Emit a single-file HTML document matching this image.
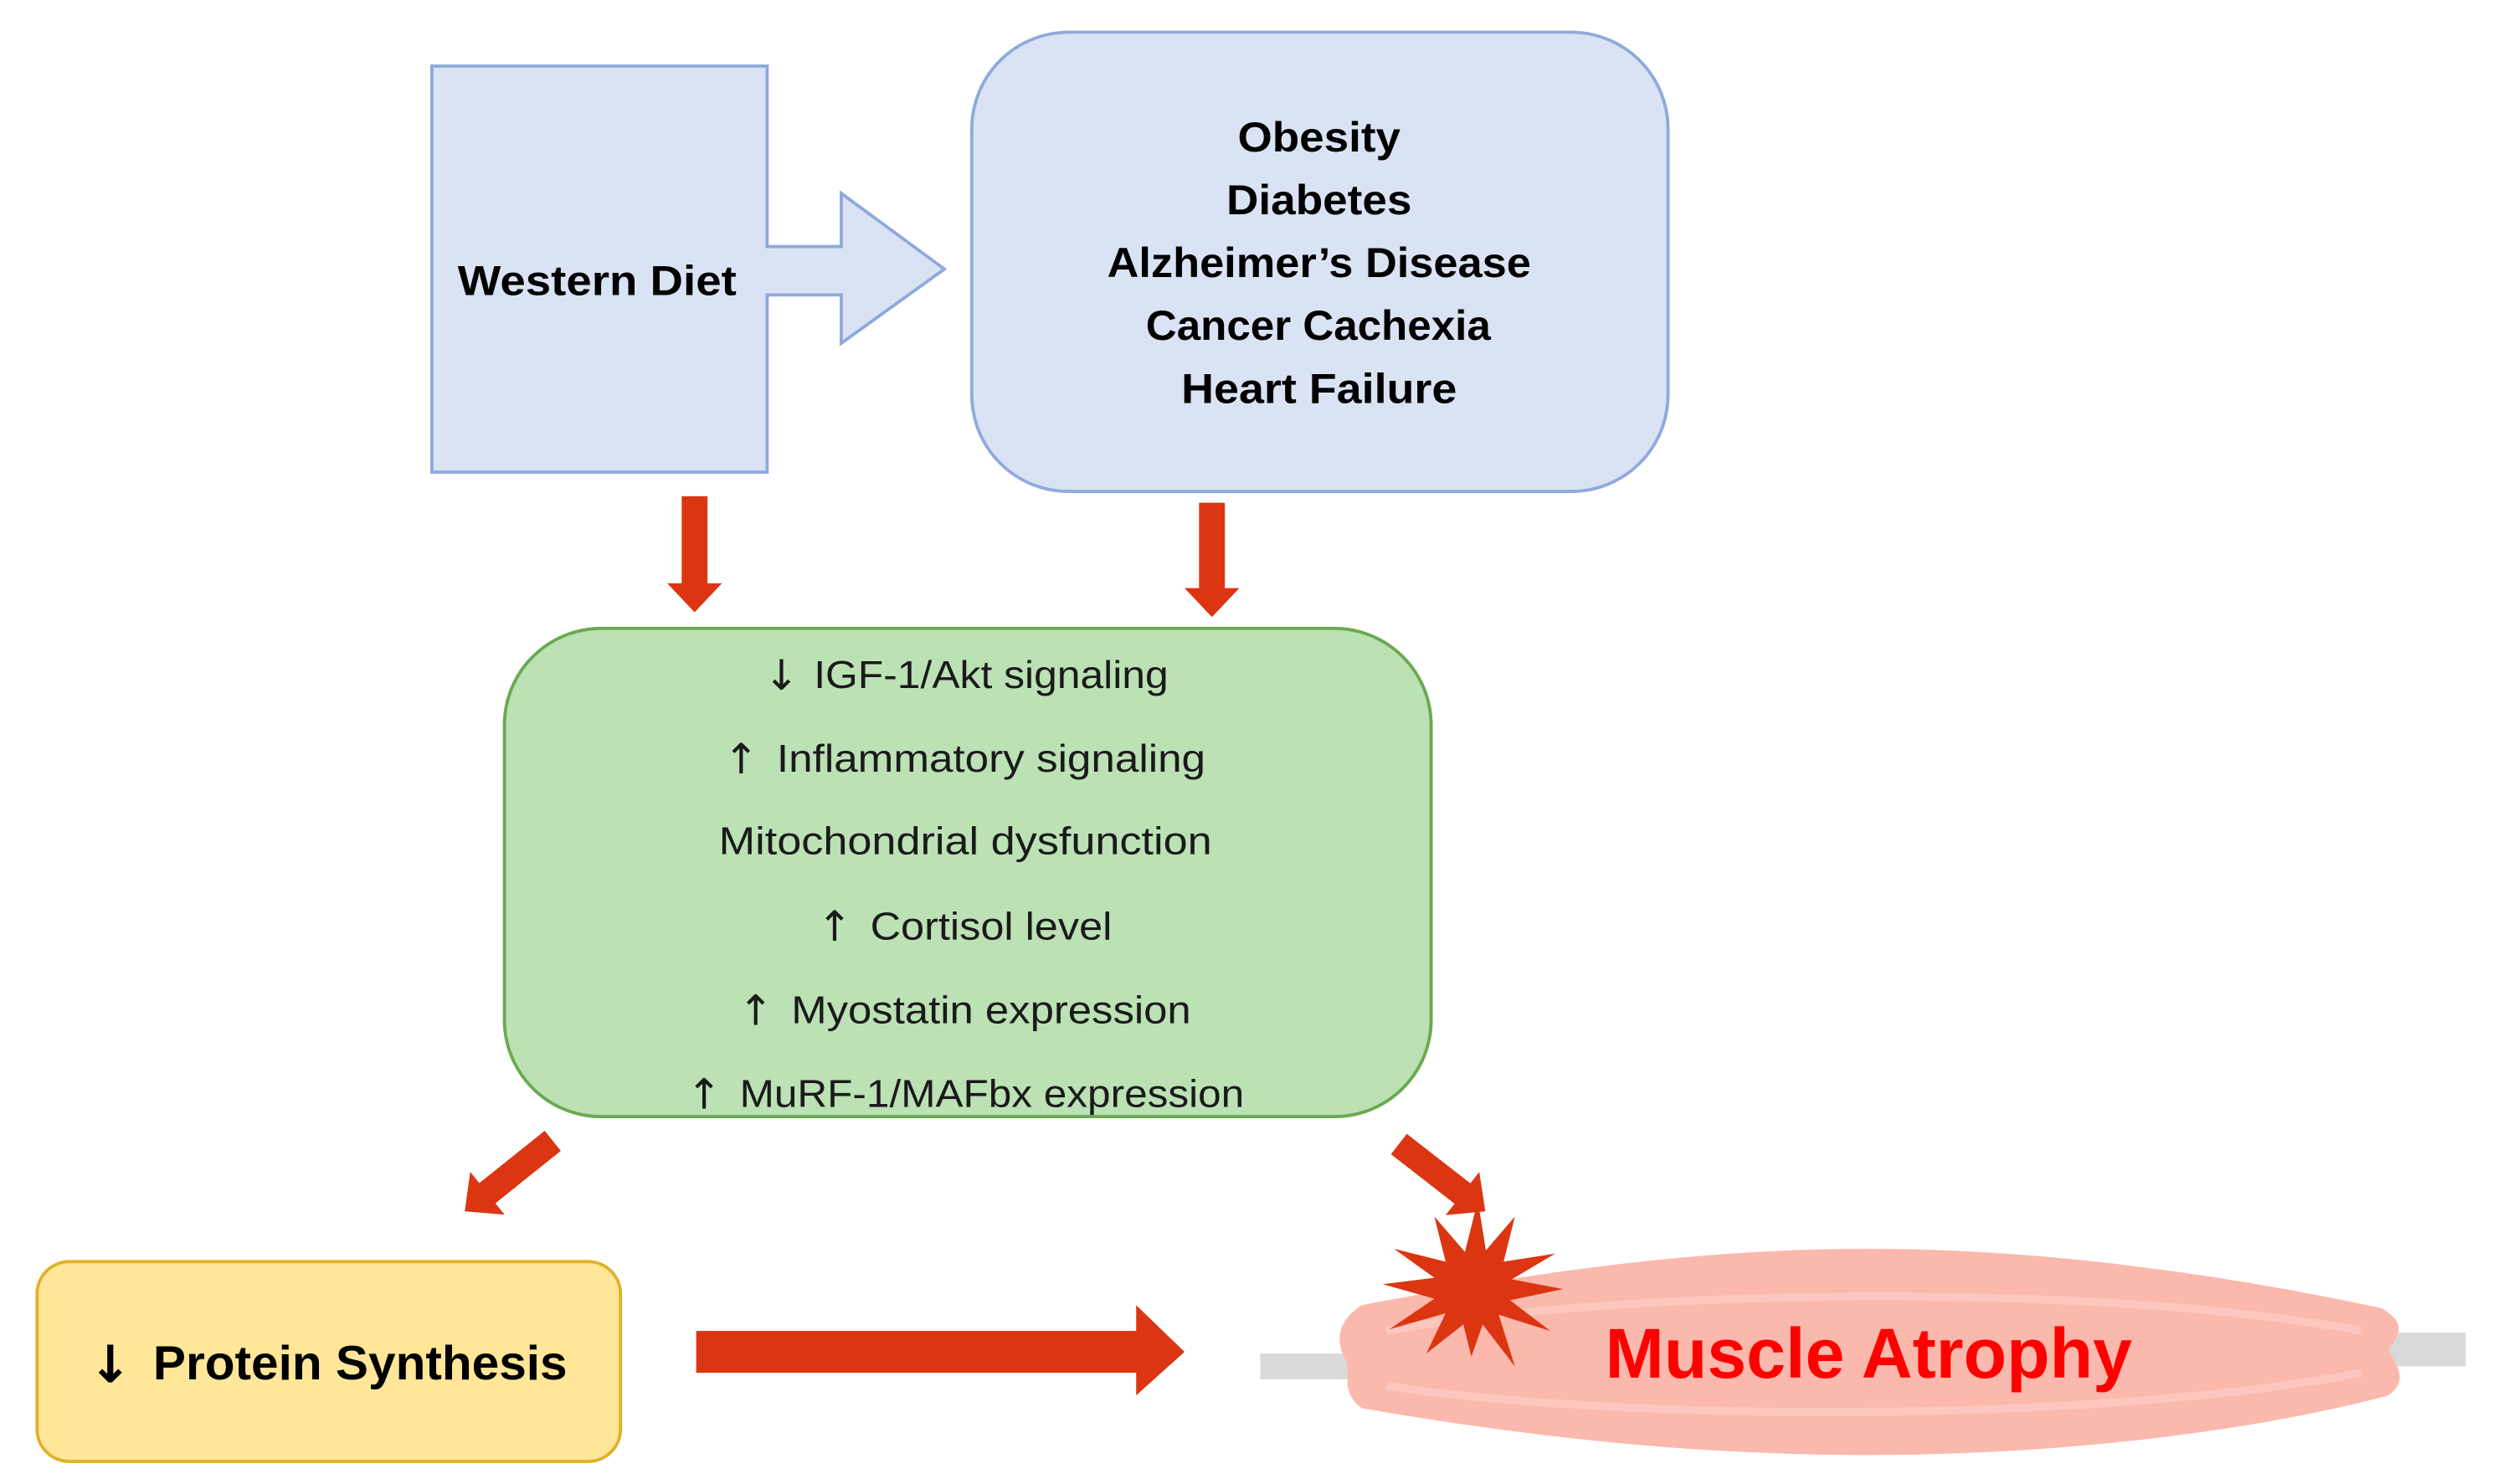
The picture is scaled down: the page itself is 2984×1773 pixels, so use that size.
<!DOCTYPE html>
<html><head><meta charset="utf-8"><style>
html,body{margin:0;padding:0;background:#fff;}
svg{display:block;}
</style></head><body>
<svg width="2984" height="1773" viewBox="0 0 1550 921" preserveAspectRatio="none" xmlns="http://www.w3.org/2000/svg">
<!-- Western diet -->
<rect x="268" y="41" width="208" height="252" fill="#dae3f3" stroke="#8faadc" stroke-width="2"/>
<polygon points="476,153 522,153 522,120 586,167 522,213 522,183 476,183" fill="#dae3f3" stroke="#8faadc" stroke-width="2"/>
<rect x="470" y="154" width="8" height="28" fill="#dae3f3"/>
<text x="284" y="183" font-family="Liberation Sans, sans-serif" font-weight="bold" font-size="26" textLength="173" lengthAdjust="spacingAndGlyphs">Western Diet</text>
<!-- Diseases -->
<rect x="603" y="20" width="432" height="285" rx="60" fill="#dae3f3" stroke="#8faadc" stroke-width="2"/>
<g font-family="Liberation Sans, sans-serif" font-weight="bold" font-size="26" fill="#000">
<text x="768" y="94" textLength="101" lengthAdjust="spacingAndGlyphs">Obesity</text>
<text x="761" y="133" textLength="115" lengthAdjust="spacingAndGlyphs">Diabetes</text>
<text x="687" y="172" textLength="263" lengthAdjust="spacingAndGlyphs">Alzheimer’s Disease</text>
<text x="711" y="211" textLength="214" lengthAdjust="spacingAndGlyphs">Cancer Cachexia</text>
<text x="733" y="250" textLength="171" lengthAdjust="spacingAndGlyphs">Heart Failure</text>
</g>
<!-- red arrows -->
<g fill="#dc3512">
<polygon transform="translate(431,308) rotate(90)" points="0,-8 54,-8 54,-17 72,0 54,17 54,8 0,8"/>
<polygon transform="translate(752,312) rotate(90)" points="0,-8 53,-8 53,-17 71,0 53,17 53,8 0,8"/>
<polygon transform="translate(343,708) rotate(141.3)" points="0,-8 52,-8 52,-17 70,0 52,17 52,8 0,8"/>
<polygon transform="translate(868,710) rotate(37.9)" points="0,-8 50,-8 50,-17 68,0 50,17 50,8 0,8"/>
<polygon points="432,826 705,826 705,810 735,839 705,866 705,852 432,852"/>
</g>
<!-- Green box -->
<rect x="313" y="390" width="575" height="303" rx="60" fill="#bbe1b4" stroke="#6aaa50" stroke-width="2"/>
<g font-family="Liberation Sans, sans-serif" font-size="24" fill="#1a1a1a">
<text x="474" y="428" font-family="DejaVu Sans, sans-serif" font-size="26">↓</text>
<text x="505" y="427" textLength="220" lengthAdjust="spacingAndGlyphs">IGF-1/Akt signaling</text>
<text x="449" y="480" font-family="DejaVu Sans, sans-serif" font-size="26">↑</text>
<text x="482" y="479" textLength="266" lengthAdjust="spacingAndGlyphs">Inflammatory signaling</text>
<text x="446" y="530" textLength="306" lengthAdjust="spacingAndGlyphs">Mitochondrial dysfunction</text>
<text x="507" y="584" font-family="DejaVu Sans, sans-serif" font-size="26">↑</text>
<text x="540" y="583" textLength="150" lengthAdjust="spacingAndGlyphs">Cortisol level</text>
<text x="458" y="636" font-family="DejaVu Sans, sans-serif" font-size="26">↑</text>
<text x="491" y="635" textLength="248" lengthAdjust="spacingAndGlyphs">Myostatin expression</text>
<text x="426" y="688" font-family="DejaVu Sans, sans-serif" font-size="26">↑</text>
<text x="459" y="687" textLength="313" lengthAdjust="spacingAndGlyphs">MuRF-1/MAFbx expression</text>
</g>
<!-- Yellow box -->
<rect x="23" y="783" width="362" height="124" rx="20" fill="#ffe699" stroke="#e0b12a" stroke-width="2"/>
<text x="55" y="858" font-family="DejaVu Sans, sans-serif" font-weight="bold" font-size="32">↓</text>
<text x="95" y="856" font-family="Liberation Sans, sans-serif" font-weight="bold" font-size="30" textLength="257" lengthAdjust="spacingAndGlyphs">Protein Synthesis</text>
<!-- Muscle -->
<rect x="782" y="840" width="62" height="16" fill="#d9d9d9"/>
<rect x="1470" y="827" width="60" height="21" fill="#d9d9d9"/>
<path d="M845,810 C950,790 1050,775 1160,775 C1280,775 1400,795 1478,812 C1495,822 1487,830 1482,838 C1487,848 1495,856 1482,866 C1400,888 1280,903 1160,903 C1050,903 950,892 845,874 C830,862 840,852 834,842 C828,830 832,818 845,810 Z" fill="#fbb8ac"/>
<path d="M860,826 C1000,800 1300,795 1465,826" stroke="#fcc7be" stroke-width="5" fill="none"/>
<path d="M860,860 C1000,882 1300,884 1465,852" stroke="#fcc7be" stroke-width="5" fill="none"/>
<polygon points="970,800 937,807 962,826 930,816 940,848 920,822 913,842 908,822 885,840 897,815 862,825 890,806 858,797 890,793 865,775 897,783 890,755 909,777 917,745 922,776 940,755 933,783 965,778 938,794" fill="#dc3512"/>
<text x="996" y="855" font-family="Liberation Sans, sans-serif" font-weight="bold" font-size="44" fill="#ff0000" textLength="327" lengthAdjust="spacingAndGlyphs">Muscle Atrophy</text>
</svg>
</body></html>
